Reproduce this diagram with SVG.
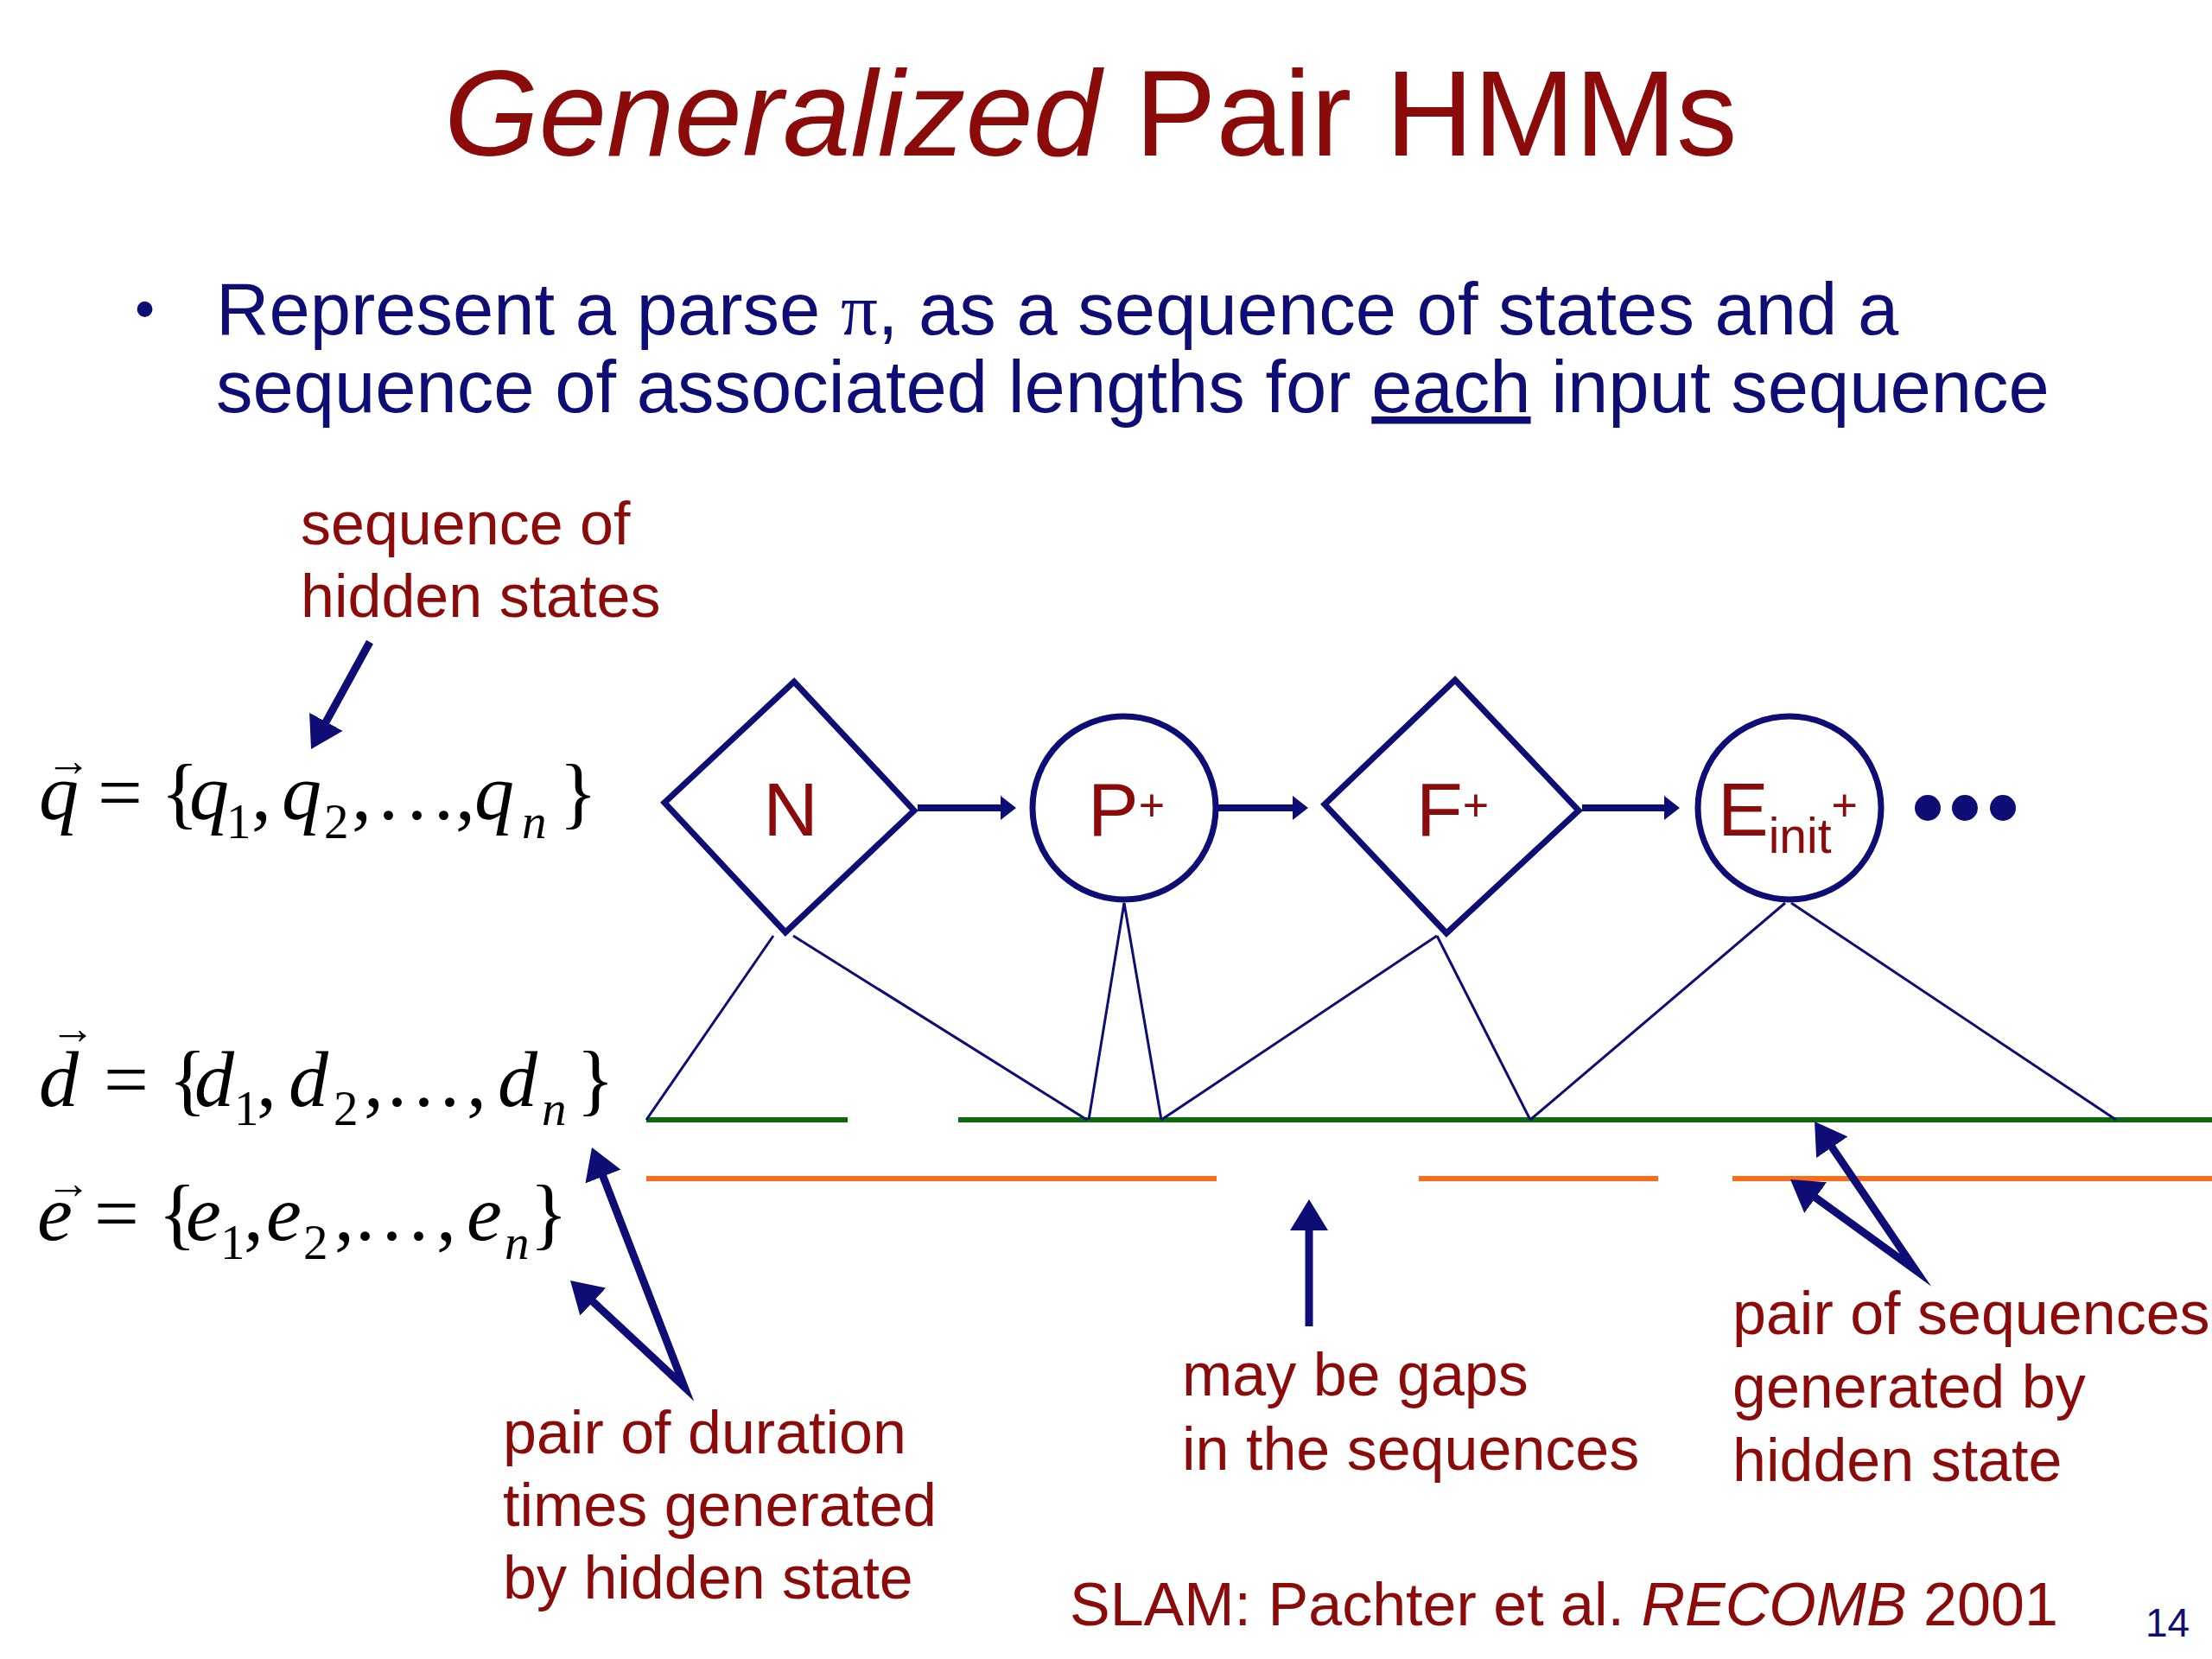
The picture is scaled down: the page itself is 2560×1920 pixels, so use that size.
<svg xmlns="http://www.w3.org/2000/svg" width="2560" height="1920" viewBox="0 0 2560 1920">
<defs>
<style>
.red{fill:#8B0A0A;font-family:"Liberation Sans",Arial,sans-serif}
.blue{fill:#0D0D75;font-family:"Liberation Sans",Arial,sans-serif}
.lbl{font-size:70px}
.math{font-family:"Liberation Serif","Times New Roman",serif;font-size:92px;fill:#000}
.it{font-style:italic}
.sub{font-size:57px}
.vec{font-size:52px}
.node{fill:#fff;stroke:#0D0D75;stroke-width:7}
.nl{fill:#8B0A0A;font-family:"Liberation Sans",Arial,sans-serif;font-size:88px}
.thin{stroke:#0D0D75;stroke-width:3;fill:none}
.flow{stroke:#0D0D75;stroke-width:8;fill:none;marker-end:url(#hs)}
.ann{stroke:#0D0D75;stroke-width:9;fill:none;stroke-linejoin:miter;stroke-miterlimit:20}
.green{stroke:#0B6A0B;stroke-width:6}
.orange{stroke:#FF6A12;stroke-width:6}
</style>
<marker id="hb" markerUnits="userSpaceOnUse" markerWidth="36" markerHeight="44" viewBox="0 0 36 44" refX="8" refY="22" orient="auto-start-reverse">
<path d="M0,0 L36,22 L0,44 z" fill="#0D0D75"/>
</marker>
<marker id="hs" markerUnits="userSpaceOnUse" markerWidth="18" markerHeight="28" viewBox="0 0 18 28" refX="4" refY="14" orient="auto">
<path d="M0,0 L18,14 L0,28 z" fill="#0D0D75"/>
</marker>
</defs>
<rect width="2560" height="1920" fill="#fff"/>

<g id="title">
<text x="514" y="180" class="red" font-size="141"><tspan font-style="italic">Generalized</tspan> Pair HMMs</text>
</g>

<g id="bullet">
<text x="156" y="380" class="blue" font-size="66">•</text>
<text x="250" y="387" class="blue" font-size="85">Represent a parse <tspan font-family="'Liberation Serif',serif">π</tspan>, as a sequence of states and a</text>
<text x="250" y="477" class="blue" font-size="85">sequence of associated lengths for <tspan text-decoration="underline">each</tspan> input sequence</text>
</g>

<g id="equations">
<text class="math"><tspan x="53" y="898" class="vec">→</tspan><tspan x="45" y="948" class="it">q</tspan><tspan x="113">=</tspan><tspan x="186">{</tspan><tspan x="219" class="it">q</tspan><tspan x="262" y="970" class="sub">1</tspan><tspan x="291" y="948">,</tspan><tspan x="326" class="it">q</tspan><tspan x="375" y="970" class="sub">2</tspan><tspan x="407" y="948">,</tspan><tspan x="438">.</tspan><tspan x="471">.</tspan><tspan x="502">.</tspan><tspan x="527">,</tspan><tspan x="549" class="it">q</tspan><tspan x="604" y="970" class="sub it">n</tspan><tspan x="647" y="948">}</tspan></text>

<text class="math"><tspan x="58" y="1208" class="vec">→</tspan><tspan x="45" y="1280" class="it">d</tspan><tspan x="120">=</tspan><tspan x="195">{</tspan><tspan x="225" class="it">d</tspan><tspan x="271" y="1302" class="sub">1</tspan><tspan x="297" y="1280">,</tspan><tspan x="334" class="it">d</tspan><tspan x="386" y="1302" class="sub">2</tspan><tspan x="421" y="1280">,</tspan><tspan x="448">.</tspan><tspan x="479">.</tspan><tspan x="509">.</tspan><tspan x="540">,</tspan><tspan x="576" class="it">d</tspan><tspan x="627" y="1302" class="sub it">n</tspan><tspan x="667" y="1280">}</tspan></text>

<text class="math"><tspan x="53" y="1387" class="vec">→</tspan><tspan x="43" y="1435" class="it">e</tspan><tspan x="109">=</tspan><tspan x="183">{</tspan><tspan x="215" class="it">e</tspan><tspan x="255" y="1457" class="sub">1</tspan><tspan x="282" y="1435">,</tspan><tspan x="308" class="it">e</tspan><tspan x="351" y="1457" class="sub">2</tspan><tspan x="387" y="1435">,</tspan><tspan x="411">.</tspan><tspan x="442">.</tspan><tspan x="473">.</tspan><tspan x="505">,</tspan><tspan x="540" class="it">e</tspan><tspan x="584" y="1457" class="sub it">n</tspan><tspan x="613" y="1435">}</tspan></text>
</g>

<g id="sequences">
<line class="green" x1="748" y1="1296" x2="981" y2="1296"/>
<line class="green" x1="1109" y1="1296" x2="2560" y2="1296"/>
<line class="orange" x1="748" y1="1364" x2="1408" y2="1364"/>
<line class="orange" x1="1642" y1="1364" x2="1919" y2="1364"/>
<line class="orange" x1="2005" y1="1364" x2="2560" y2="1364"/>
</g>

<g id="connectors">
<line class="flow" x1="1062" y1="935" x2="1162" y2="935"/>
<line class="flow" x1="1410" y1="935" x2="1500" y2="935"/>
<line class="flow" x1="1831" y1="935" x2="1930" y2="935"/>
<line class="thin" x1="895" y1="1083" x2="748" y2="1296"/>
<line class="thin" x1="918" y1="1083" x2="1258" y2="1296"/>
<line class="thin" x1="1301" y1="1045" x2="1260" y2="1296"/>
<line class="thin" x1="1301" y1="1045" x2="1344" y2="1296"/>
<line class="thin" x1="1663" y1="1083" x2="1344" y2="1296"/>
<line class="thin" x1="1663" y1="1083" x2="1771" y2="1296"/>
<line class="thin" x1="2066" y1="1045" x2="1771" y2="1296"/>
<line class="thin" x1="2073" y1="1045" x2="2449" y2="1296"/>
<line class="ann" x1="428" y1="743" x2="373.5" y2="842.4" marker-end="url(#hb)"/>
<path class="ann" d="M695.1,1354.1 L792,1605 L680.5,1501.1" marker-start="url(#hb)" marker-end="url(#hb)"/>
<line class="ann" x1="1515" y1="1535" x2="1515" y2="1416" marker-end="url(#hb)"/>
<path class="ann" d="M2115.8,1321.2 L2217,1470 L2094.7,1381.4" marker-start="url(#hb)" marker-end="url(#hb)"/>
</g>

<g id="node-N">
<polygon class="node" points="919,789 1058,938 909,1079 769,929"/>
<text class="nl" x="915" y="967" text-anchor="middle">N</text>
</g>
<g id="node-P">
<circle class="node" cx="1301" cy="935" r="106"/>
<text class="nl" x="1259" y="967">P<tspan font-size="52" dy="-17">+</tspan></text>
</g>
<g id="node-F">
<polygon class="node" points="1684,787 1827,938 1674,1080 1533,931"/>
<text class="nl" x="1639" y="967">F<tspan font-size="52" dy="-17">+</tspan></text>
</g>
<g id="node-E">
<circle class="node" cx="2071" cy="935" r="106"/>
<text class="nl" x="1988" y="967">E<tspan font-size="57" dy="20">init</tspan><tspan font-size="52" dy="-37">+</tspan></text>
</g>
<g id="ellipsis">
<circle cx="2231" cy="935" r="15" fill="#0D0D75"/>
<circle cx="2274" cy="935" r="15" fill="#0D0D75"/>
<circle cx="2318" cy="935" r="15" fill="#0D0D75"/>
</g>

<g id="labels">
<text class="red lbl" x="348" y="630">sequence of</text>
<text class="red lbl" x="348" y="714">hidden states</text>
<text class="red lbl" x="582" y="1682">pair of duration</text>
<text class="red lbl" x="582" y="1766">times generated</text>
<text class="red lbl" x="582" y="1850">by hidden state</text>
<text class="red lbl" x="1368" y="1615">may be gaps</text>
<text class="red lbl" x="1368" y="1701">in the sequences</text>
<text class="red lbl" x="2005" y="1544">pair of sequences</text>
<text class="red lbl" x="2005" y="1629">generated by</text>
<text class="red lbl" x="2005" y="1714">hidden state</text>
<text class="red lbl" x="1238" y="1881">SLAM: Pachter et al. <tspan font-style="italic">RECOMB</tspan> 2001</text>
<text class="blue" x="2483" y="1894" font-size="46">14</text>
</g>
</svg>
